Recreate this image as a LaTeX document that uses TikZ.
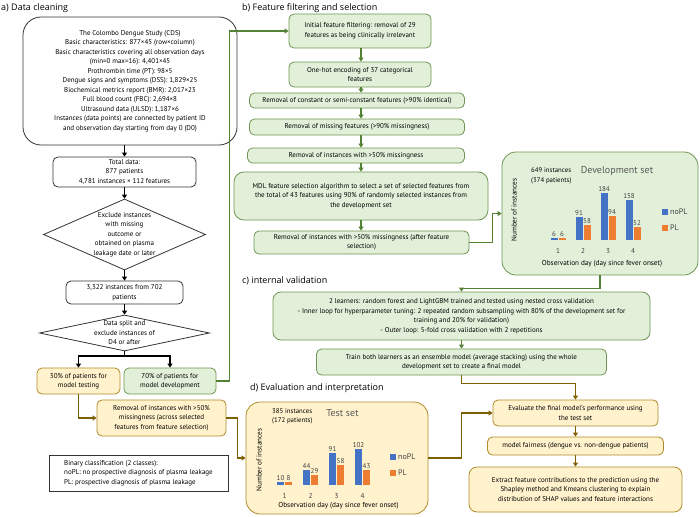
\documentclass[tikz,border=0pt]{standalone}
\usepackage{fontspec}
\setmainfont{PT Sans}
\newfontfamily\headfont{Open Sans}
\usetikzlibrary{shapes.geometric, arrows.meta, positioning, calc}
\definecolor{leafgreen}{RGB}{84, 130, 53}
\definecolor{leaffill}{RGB}{226, 240, 217}
\definecolor{sandfill}{RGB}{255, 242, 204}
\definecolor{sandline}{RGB}{176, 138, 40}
\definecolor{ochre}{RGB}{127, 96, 0}
\definecolor{barblue}{RGB}{68, 114, 196}
\definecolor{barorange}{RGB}{237, 125, 49}

\tikzset{
    flowbox/.style={draw, rounded corners=5pt, align=center, inner sep=1pt, line width=0.8pt, font=\fontsize{7}{9.5}\selectfont},
    greenbox/.style={flowbox, draw=leafgreen!85, fill=leaffill},
    sandbox/.style={flowbox, draw=sandline, fill=sandfill},
    plainbox/.style={flowbox, draw=black!80, fill=white},
    decision/.style={diamond, draw=black!80, line width=0.8pt, inner sep=0pt},
    dtext/.style={align=center, inner sep=0pt, font=\fontsize{7}{9.5}\selectfont},
    karrow/.style={draw=black, line width=1.1pt, -{Triangle[length=4pt, width=5pt]}},
    garrow/.style={draw=leafgreen, line width=1.1pt, -{Triangle[length=4pt, width=5pt]}},
    sarrow/.style={draw=ochre, line width=1.1pt, -{Triangle[length=4pt, width=5pt]}},
    heading/.style={anchor=west, inner sep=1pt, font=\headfont\fontsize{9}{11}\selectfont},
    chartnote/.style={anchor=west, align=left, inner sep=0pt, font=\fontsize{6.8}{9.5}\selectfont},
    charttitle/.style={inner sep=0pt, text=black!65, font=\fontsize{10}{12}\selectfont},
    axislbl/.style={inner sep=0pt, font=\fontsize{7.2}{8}\selectfont},
    barval/.style={inner sep=1.2pt, text=black!75, font=\fontsize{7}{8}\selectfont},
    legtext/.style={anchor=west, inner sep=1pt, text=black!75, font=\fontsize{8}{9}\selectfont}
}

\begin{document}
\begin{tikzpicture}[x=1pt, y=-1pt]
    \useasboundingbox (0,0) rectangle (700,516);

    % a) Data cleaning
    \node[heading] (ha) at (0,8) {a) Data cleaning};
    \node[plainbox, rounded corners=18pt, minimum width=214, minimum height=128] (cds) at (130,81) {The Colombo Dengue Study (CDS)\\Basic characteristics: 877×45 (row×column)\\Basic characteristics covering all observation days\\(min=0 max=16): 4,401×45\\Prothrombin time (PT): 98×5\\Dengue signs and symptoms (DSS): 1,829×25\\Biochemical metrics report (BMR): 2,017×23\\Full blood count (FBC): 2,694×8\\Ultrasound data (ULSD): 1,187×6\\Instances (data points) are connected by patient ID\\and observation day starting from day 0 (D0)};
    \node[plainbox, minimum width=143, minimum height=30] (total) at (124.5,172) {Total data:\\877 patients\\4,781 instances × 112 features};
    \node[decision, minimum width=162, minimum height=71, label={[dtext]center:{Exclude instances\\with missing\\outcome or\\obtained on plasma\\leakage date or later}}] (excl) at (124.5,234.5) {};
    \node[plainbox, minimum width=117, minimum height=23] (kept) at (124.5,292.5) {3,322 instances from 702\\patients};
    \node[decision, minimum width=170, minimum height=36, label={[dtext]center:{Data split and\\exclude instances of\\D4 or after}}] (split) at (124.5,333) {};
    \coordinate (fork) at (124.5,356);
    \node[sandbox, minimum width=83, minimum height=26] (testpart) at (78.5,381) {30\% of patients for\\model testing};
    \node[greenbox, minimum width=92, minimum height=26] (devpart) at (170,381) {70\% of patients for\\model development};
    \node[sandbox, minimum width=129, minimum height=36] (rmtest) at (161.5,418) {Removal of instances with >50\%\\missingness (across selected\\features from feature selection)};
    \node[plainbox, rounded corners=0pt, align=left, minimum width=179, minimum height=36] (classes) at (138.5,473) {Binary classification (2 classes):\\noPL: no prospective diagnosis of plasma leakage\\PL: prospective diagnosis of plasma leakage};

    \draw[karrow] (cds.south -| total) -- (total);
    \draw[karrow] (total) -- (total |- excl.north);
    \draw[karrow] (excl) -- (excl |- kept.north);
    \draw[karrow] (kept) -- (kept |- split.north);
    \draw[line width=1.1pt] (split.south) -- (fork);
    \draw[karrow] (fork) -| (testpart);
    \draw[karrow] (fork) -| (devpart);
    \draw[sarrow] (testpart) |- (rmtest);

    % b) Feature filtering and selection
    \node[heading] (hb) at (241,8) {b) Feature filtering and selection};
    \node[greenbox, minimum width=142, minimum height=34] (init) at (360,31) {Initial feature filtering: removal of 29\\features as being clinically irrelevant};
    \node[greenbox, minimum width=142, minimum height=25] (onehot) at (360,74.5) {One-hot encoding of 37 categorical\\features};
    \node[greenbox, minimum width=215, minimum height=15] (constant) at (357,100.5) {Removal of constant or semi-constant features (>90\% identical)};
    \node[greenbox, minimum width=215, minimum height=16] (missing) at (357,127) {Removal of missing features (>90\% missingness)};
    \node[greenbox, minimum width=217, minimum height=15] (sparse) at (356,155.5) {Removal of instances with >50\% missingness};
    \node[greenbox, rounded corners=10pt, minimum width=254, minimum height=48] (mdl) at (361,196) {MDL feature selection algorithm to select a set of selected features from\\the total of 43 features using 90\% of randomly selected instances from\\the development set};
    \node[greenbox, minimum width=215, minimum height=23] (after) at (361.5,242.5) {Removal of instances with >50\% missingness (after feature\\selection)};
    \node[greenbox, rounded corners=14pt, minimum width=196, minimum height=123] (devset) at (600,213.5) {};

    \draw[garrow] (devpart.east) -- ++(13,0) |- (init);
    \foreach \a/\b in {init/onehot, onehot/constant, constant/missing, missing/sparse, sparse/mdl, mdl/after}
        \draw[garrow] (\a.south -| mdl) -- (\b.north -| mdl);
    \draw[garrow] (after.east) -- ++(23,0) |- (devset);

    % Development set chart
    \node[chartnote] (devcount) at (531,176) {649 instances\\(374 patients)};
    \node[charttitle] (devtitle) at (617,171) {Development set};
    \node[axislbl, rotate=90] (devylab) at (514,210) {Number of instances};
    \node[axislbl] (devxlab) at (602,264) {Observation day (day since fever onset)};
    \foreach \d/\n/\p in {1/6/6, 2/91/58, 3/184/94, 4/158/52} {
        \pgfmathsetmacro\cx{558+25*(\d-1)}
        \fill[barblue] (\cx-7.5,240) rectangle (\cx-0.5,240-0.255*\n);
        \fill[barorange] (\cx+0.5,240) rectangle (\cx+7.5,240-0.255*\p);
        \node[barval, above] (dn\d) at (\cx-4,240-0.255*\n) {\n};
        \node[barval, above] (dp\d) at (\cx+4,240-0.255*\p) {\p};
        \node[axislbl, text=black!75] (dd\d) at (\cx,251) {\d};
    }
    \fill[barblue] (662,209) rectangle ++(6,6);
    \node[legtext] (devleg1) at (669,212) {noPL};
    \fill[barorange] (662,225) rectangle ++(6,6);
    \node[legtext] (devleg2) at (669,228) {PL};

    % c) internal validation
    \node[heading] (hc) at (241,281) {c) internal validation};
    \node[greenbox, rounded corners=8pt, minimum width=377, minimum height=48] (learners) at (461.5,316) {2 learners: random forest and LightGBM trained and tested using nested cross validation\\- Inner loop for hyperparameter tuning: 2 repeated random subsampling with 80\% of the development set for\\training and 20\% for validation)\\- Outer loop: 5-fold cross validation with 2 repetitions};
    \node[greenbox, minimum width=290, minimum height=26] (train) at (461.5,362) {Train both learners as an ensemble model (average stacking) using the whole\\development set to create a final model};

    \draw[garrow] (devset.south) -- ++(0,13) -| (learners);
    \draw[garrow] (learners) -- (train);

    % d) Evaluation and interpretation
    \node[heading] (hd) at (249,388) {d) Evaluation and interpretation};
    \node[sandbox, rounded corners=14pt, minimum width=182, minimum height=112] (testset) at (337,458) {};
    \node[sandbox, minimum width=165, minimum height=26] (eval) at (575.5,413) {Evaluate the final model's performance using\\the test set};
    \node[sandbox, minimum width=176, minimum height=18] (fair) at (575.5,446) {model fairness (dengue vs. non-dengue patients)};
    \node[sandbox, rounded corners=8pt, minimum width=213, minimum height=45] (shap) at (575.5,489.5) {Extract feature contributions to the prediction using the\\Shapley method and Kmeans clustering to explain\\distribution of SHAP values and feature interactions};

    \draw[sarrow] (rmtest.east) -- ++(11,0) |- (testset);
    \draw[sarrow] (train.south) -- ++(0,8) -| (eval);
    \draw[sarrow] (testset.east) -- ++(33,0) |- (eval);
    \draw[sarrow] (eval) -- (fair);
    \draw[sarrow] (fair) -- (shap);

    % Test set chart
    \node[chartnote] (testcount) at (272,416.5) {385 instances\\(172 patients)};
    \node[charttitle] (testtitle) at (342.5,413) {Test set};
    \node[axislbl, rotate=90] (testylab) at (259,460) {Number of instances};
    \node[axislbl] (testxlab) at (338.5,506) {Observation day (day since fever onset)};
    \foreach \d/\n/\p in {1/10/8, 2/44/29, 3/91/58, 4/102/43} {
        \pgfmathsetmacro\cx{284.5+26*(\d-1)}
        \fill[barblue] (\cx-7.5,485) rectangle (\cx-0.5,485-0.35*\n);
        \fill[barorange] (\cx+0.5,485) rectangle (\cx+7.5,485-0.35*\p);
        \node[barval, above] (tn\d) at (\cx-4,485-0.35*\n) {\n};
        \node[barval, above] (tp\d) at (\cx+4,485-0.35*\p) {\p};
        \node[axislbl, text=black!75] (td\d) at (\cx,496) {\d};
    }
    \fill[barblue] (390,454) rectangle ++(6,6);
    \node[legtext] (testleg1) at (397,457) {noPL};
    \fill[barorange] (390,470) rectangle ++(6,6);
    \node[legtext] (testleg2) at (397,473) {PL};
\end{tikzpicture}
\end{document}
